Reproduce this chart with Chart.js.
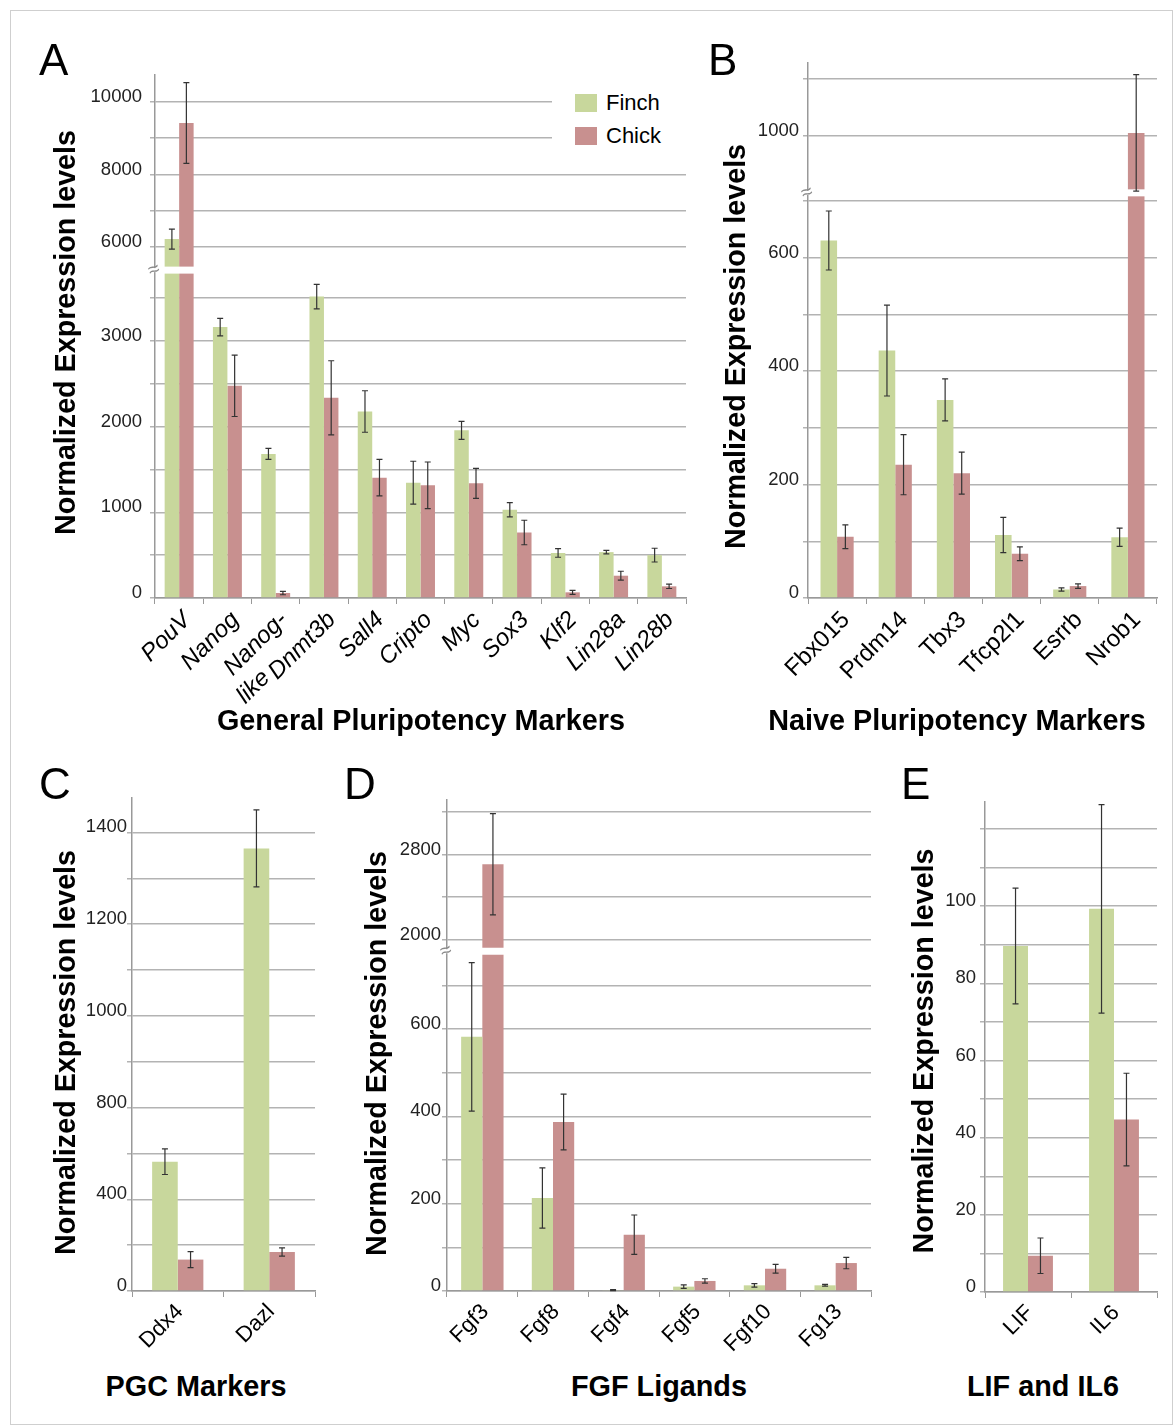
<!DOCTYPE html>
<html>
<head>
<meta charset="utf-8">
<script src="https://cdn.jsdelivr.net/npm/chart.js@4.4.1/dist/chart.umd.min.js"></script>
<style>
  body { margin: 0; background: #fff; font-family: "Liberation Sans", Arial, Helvetica, sans-serif; }
  #page { position: relative; width: 1175px; height: 1427px; overflow: hidden; }
  .frame { position: absolute; left: 10px; top: 10px; width: 1163px; height: 1415px; border: 1px solid #cfcfcf; box-sizing: border-box; }
  canvas { position: absolute; }
  .letter { position: absolute; font-size: 44px; line-height: 1; color: #000; }
  .xtitle { position: absolute; width: 600px; text-align: center; font-size: 28.8px; font-weight: bold; line-height: 1; color: #000; }
  #legend { position: absolute; left: 552px; top: 86px; width: 140px; height: 64px; background: #fff; }
  #legend div { position: absolute; left: 23px; font-size: 22px; line-height: 1; }
  #legend span { display: inline-block; width: 22px; height: 18px; margin-right: 9px; vertical-align: -2px; }
</style>
</head>
<body>
<div id="page">
  <div class="frame"></div>

  <canvas id="chartA" width="656" height="658" style="left:40px;top:55px"></canvas>
  <canvas id="chartB" width="462" height="655" style="left:705px;top:43px"></canvas>
  <canvas id="chartC" width="283" height="583" style="left:40px;top:778px"></canvas>
  <canvas id="chartD" width="529" height="581" style="left:350px;top:780px"></canvas>
  <canvas id="chartE" width="269" height="580" style="left:898px;top:782px"></canvas>

  <div class="letter" style="left:39px;top:38px">A</div>
  <div class="letter" style="left:708px;top:38px">B</div>
  <div class="letter" style="left:39px;top:762px">C</div>
  <div class="letter" style="left:344px;top:762px">D</div>
  <div class="letter" style="left:901px;top:762px">E</div>

  <div id="legend">
    <div style="top:6px"><span style="background:#c8d79c"></span>Finch</div>
    <div style="top:39px"><span style="background:#c8908f"></span>Chick</div>
  </div>

  <div class="xtitle" style="left:121px;top:706px">General Pluripotency Markers</div>
  <div class="xtitle" style="left:657px;top:706px">Naive Pluripotency Markers</div>
  <div class="xtitle" style="left:-104px;top:1372px">PGC Markers</div>
  <div class="xtitle" style="left:359px;top:1372px">FGF Ligands</div>
  <div class="xtitle" style="left:743px;top:1372px">LIF and IL6</div>
</div>

<script>
// ---- data ----
const genesA = ['PouV', 'Nanog', ['Nanog-', 'like        '], 'Dnmt3b', 'Sall4', 'Cripto', 'Myc', 'Sox3', 'Klf2', 'Lin28a', 'Lin28b'];
const finchA = [6220, 3160, 1680, 3515, 2175, 1345, 1955, 1030, 525, 535, 500];
const finchErrA = [275, 102, 64, 142, 242, 250, 106, 83, 50, 20, 80];
const chickA = [9415, 2475, 58, 2335, 1403, 1314, 1337, 764, 66, 260, 136];
const chickErrA = [1112, 358, 20, 432, 213, 272, 175, 143, 23, 52, 25];
const gridA = [0, 500, 1000, 1500, 2000, 2500, 3000, 3500, 6000, 7000, 8000, 9000, 10000];
const tickLabelsA = [0, 1000, 2000, 3000, 6000, 8000, 10000];

const genesB = ['Fbx015', 'Prdm14', 'Tbx3', 'Tfcp2l1', 'Esrrb', 'Nrob1'];
const finchB = [630, 436, 349, 111, 15, 107];
const finchErrB = [52, 80, 37, 31, 3, 16];
const chickB = [108, 235, 220, 78, 21, 1005];
const chickErrB = [21, 53, 37, 12, 4, 102];
const gridB = [0, 100, 200, 300, 400, 500, 600, 700, 1000, 1100];
const tickLabelsB = [0, 200, 400, 600, 1000];

const genesC = ['Ddx4', 'Dazl'];
const finchC = [564, 1365];
const finchErrC = [56, 84];
const chickC = [137, 170];
const chickErrC = [35, 18];
const gridC = [0, 200, 400, 600, 800, 900, 1000, 1100, 1200, 1300, 1400];
const tickLabelsC = [0, 400, 800, 1000, 1200, 1400];

const genesD = ['Fgf3', 'Fgf8', 'Fgf4', 'Fgf5', 'Fgf10', 'Fg13'];
const finchD = [582, 213, 2, 10, 13, 13];
const finchErrD = [170, 69, 1, 4, 4, 2];
const chickD = [2710, 387, 129, 23, 51, 64];
const chickErrD = [475, 64, 45, 5, 10, 13];
const gridD = [0, 100, 200, 300, 400, 500, 600, 700, 2000, 2400, 2800, 3200];
const tickLabelsD = [0, 200, 400, 600, 2000, 2800];

const genesE = ['LIF', 'IL6'];
const finchE = [89.7, 99.3];
const finchErrE = [15, 27];
const chickE = [9.4, 44.7];
const chickErrE = [4.6, 12];
const gridE = [0, 10, 20, 30, 40, 50, 60, 70, 80, 90, 100, 110, 120];
const tickLabelsE = [0, 20, 40, 60, 80, 100];

const FINCH = '#c8d79c';
const CHICK = '#c8908f';
const Y_TITLE = 'Normalized Expression levels';

Chart.defaults.font.family = '"Liberation Sans", Arial, Helvetica, sans-serif';
Chart.defaults.color = '#000';

// piecewise linear value axis, so the broken axes keep their odd spacing
function valueToFraction(values, offsets, v) {
  const last = offsets[offsets.length - 1];
  for (let i = 0; i < values.length - 1; i++) {
    if (v <= values[i + 1]) {
      const t = (v - values[i]) / (values[i + 1] - values[i]);
      return (offsets[i] + t * (offsets[i + 1] - offsets[i])) / last;
    }
  }
  return 1;
}

function fractionToValue(values, offsets, f) {
  const o = f * offsets[offsets.length - 1];
  for (let i = 0; i < offsets.length - 1; i++) {
    if (o <= offsets[i + 1] && offsets[i + 1] > offsets[i]) {
      const t = (o - offsets[i]) / (offsets[i + 1] - offsets[i]);
      return values[i] + t * (values[i + 1] - values[i]);
    }
  }
  return values[values.length - 1];
}

class BrokenScale extends Chart.LinearScale {
  static id = 'broken';
  static defaults = {};
  buildTicks() {
    return this.options.gridValues.map((v) => ({ value: v }));
  }
  getPixelForValue(value) {
    return this.getPixelForDecimal(valueToFraction(this.options.knotValues, this.options.knotOffsets, value));
  }
  getValueForPixel(pixel) {
    return fractionToValue(this.options.knotValues, this.options.knotOffsets, this.getDecimalForPixel(pixel));
  }
}
Chart.register(BrokenScale);

const breakPlugin = {
  id: 'axisBreak',
  afterDatasetsDraw(chart) {
    const yScale = chart.scales.y;
    const at = yScale.options.breakValue;
    if (at === undefined || at === null) return;
    const p = yScale.getPixelForValue(at);
    const area = chart.chartArea;
    const ctx = chart.ctx;
    ctx.save();
    ctx.fillStyle = '#fff';
    ctx.fillRect(area.left + 1, p - 3.5, area.right - area.left, 7);
    ctx.fillRect(area.left - 2, p - 2, 4, 4);
    ctx.translate(area.left - 1, p);
    ctx.rotate(-0.35);
    ctx.fillStyle = '#8a8a8a';
    ctx.font = '20px "Liberation Sans"';
    ctx.textAlign = 'center';
    ctx.textBaseline = 'middle';
    ctx.fillText('≈', 0, 0);
    ctx.restore();
  }
};

const errorBarPlugin = {
  id: 'errorBars',
  afterDatasetsDraw(chart) {
    const yScale = chart.scales.y;
    const ctx = chart.ctx;
    ctx.save();
    ctx.strokeStyle = '#333';
    ctx.lineWidth = 1.2;
    chart.data.datasets.forEach((ds, di) => {
      const meta = chart.getDatasetMeta(di);
      meta.data.forEach((bar, i) => {
        const v = ds.data[i];
        const e = ds.errors[i];
        const top = yScale.getPixelForValue(v + e);
        const bottom = yScale.getPixelForValue(Math.max(v - e, 0));
        ctx.beginPath();
        ctx.moveTo(bar.x, top);
        ctx.lineTo(bar.x, bottom);
        ctx.moveTo(bar.x - 3, top);
        ctx.lineTo(bar.x + 3, top);
        ctx.moveTo(bar.x - 3, bottom);
        ctx.lineTo(bar.x + 3, bottom);
        ctx.stroke();
      });
    });
    ctx.restore();
  }
};

function makePanel(id, cfg) {
  const canvas = document.getElementById(id);
  return new Chart(canvas, {
    type: 'bar',
    data: {
      labels: cfg.genes,
      datasets: [
        { label: 'Finch', data: cfg.finch, errors: cfg.finchErr, backgroundColor: FINCH, borderWidth: 0 },
        { label: 'Chick', data: cfg.chick, errors: cfg.chickErr, backgroundColor: CHICK, borderWidth: 0 }
      ]
    },
    options: {
      responsive: false,
      animation: false,
      devicePixelRatio: 1,
      layout: { padding: { top: 20, right: cfg.padRight, left: 0, bottom: 0 } },
      datasets: { bar: { categoryPercentage: cfg.catPct, barPercentage: 1 } },
      plugins: { legend: { display: false }, tooltip: { enabled: false } },
      scales: {
        x: {
          offset: true,
          grid: { display: true, drawOnChartArea: false, drawTicks: true, tickLength: 6, color: '#999', offset: true },
          border: { color: '#999', width: 1.5 },
          ticks: {
            font: { size: cfg.xFont, style: cfg.italic ? 'italic' : 'normal' },
            color: '#000',
            minRotation: 45,
            maxRotation: 45,
            autoSkip: false,
            padding: 2,
            labelOffset: cfg.xShift
          },
          afterFit: (s) => { s.height = cfg.xHeight; }
        },
        y: {
          type: 'broken',
          min: 0,
          max: cfg.knotValues[cfg.knotValues.length - 1],
          knotValues: cfg.knotValues,
          knotOffsets: cfg.knotOffsets,
          gridValues: cfg.grid,
          breakValue: cfg.breakValue,
          grid: { color: '#b3b3b3', lineWidth: 1.5, tickLength: 5 },
          border: { color: '#999', width: 1.5 },
          ticks: {
            font: { size: 18.5 },
            color: '#222',
            padding: cfg.yPad,
            labelOffset: -5,
            autoSkip: false,
            callback: (value) => (cfg.tickLabels.includes(value) ? String(value) : '')
          },
          title: {
            display: true,
            // trailing/leading spaces nudge the centred title along the axis
            text: cfg.titleLead + Y_TITLE + cfg.titleTrail,
            font: { size: 28.7, weight: 'bold' },
            color: '#000',
            padding: { top: cfg.titlePad, bottom: 0 }
          },
          afterFit: (s) => { s.width = cfg.yWidth; }
        }
      }
    },
    plugins: [breakPlugin, errorBarPlugin]
  });
}

function mainEvent() {
  makePanel('chartA', {
    genes: genesA, finch: finchA, finchErr: finchErrA, chick: chickA, chickErr: chickErrA,
    grid: gridA, tickLabels: tickLabelsA,
    knotValues: [0, 3824, 5367, 10735], knotOffsets: [0, 327.7, 327.7, 522.7], breakValue: 3824,
    yWidth: 115, xHeight: 115, padRight: 10, titlePad: 10, catPct: 0.6, italic: true, xFont: 24, xShift: 8, yPad: 8,
    titleLead: ' ', titleTrail: ''
  });
  makePanel('chartB', {
    genes: genesB, finch: finchB, finchErr: finchErrB, chick: chickB, chickErr: chickErrB,
    grid: gridB, tickLabels: tickLabelsB,
    knotValues: [0, 714, 900, 1127.5], knotOffsets: [0, 404.7, 404.7, 534.4], breakValue: 714,
    yWidth: 103, xHeight: 100, padRight: 10, titlePad: 15, catPct: 0.57, italic: false, xFont: 24, xShift: 9, yPad: 4,
    titleLead: '', titleTrail: '    '
  });
  makePanel('chartC', {
    genes: genesC, finch: finchC, finchErr: finchErrC, chick: chickC, chickErr: chickErrC,
    grid: gridC, tickLabels: tickLabelsC,
    knotValues: [0, 800, 1475], knotOffsets: [0, 183.7, 493.7], breakValue: null,
    yWidth: 92, xHeight: 70, padRight: 8, titlePad: 10, catPct: 0.56, italic: false, xFont: 22, xShift: 2, yPad: 0,
    titleLead: '', titleTrail: '  '
  });
  makePanel('chartD', {
    genes: genesD, finch: finchD, finchErr: finchErrD, chick: chickD, chickErr: chickErrD,
    grid: gridD, tickLabels: tickLabelsD,
    knotValues: [0, 778, 1893, 3312], knotOffsets: [0, 339.9, 339.9, 491.2], breakValue: 778,
    yWidth: 97, xHeight: 70, padRight: 8, titlePad: 11, catPct: 0.6, italic: false, xFont: 22, xShift: 3, yPad: 1,
    titleLead: '', titleTrail: '  '
  });
  makePanel('chartE', {
    genes: genesE, finch: finchE, finchErr: finchErrE, chick: chickE, chickErr: chickErrE,
    grid: gridE, tickLabels: tickLabelsE,
    knotValues: [0, 127], knotOffsets: [0, 490], breakValue: null,
    yWidth: 87, xHeight: 70, padRight: 10, titlePad: 10, catPct: 0.58, italic: false, xFont: 22, xShift: 2, yPad: 4,
    titleLead: '', titleTrail: ' '
  });
}

document.addEventListener('DOMContentLoaded', () => mainEvent());
</script>
</body>
</html>
